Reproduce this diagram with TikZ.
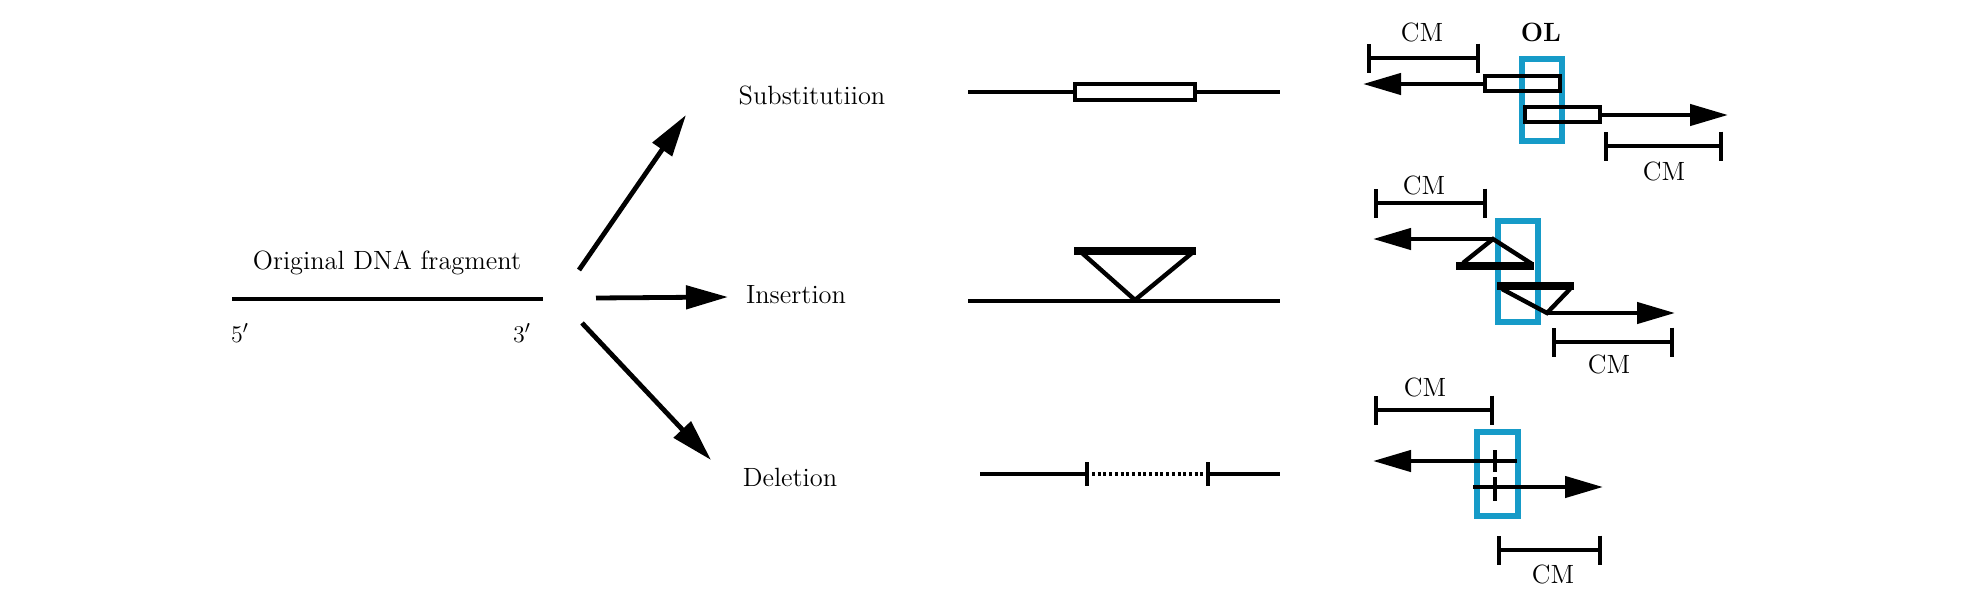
\documentclass[tikz,border=0pt]{standalone}
\usetikzlibrary{arrows.meta}
\definecolor{olblue}{RGB}{22,155,200}
\begin{document}
\begin{tikzpicture}[x=0.5pt,y=-0.5pt,
  lbl/.style={font=\fontsize{13.2}{15}\selectfont, inner sep=0pt, anchor=base},
  dna/.style={line width=2.2pt},
  bigarrow/.style={line width=2.4pt,-{Triangle[length=21pt,width=11.5pt]}},
  smallarrow/.style={line width=2.2pt,-{Triangle[length=19pt,width=10.5pt]}},
  bracket/.style={line width=2.2pt,{Bar[width=14.5pt]}-{Bar[width=14.5pt]}},
  olbox/.style={draw=olblue,line width=3.2pt},
  mutbox/.style={draw,line width=1.8pt},
  insbar/.style={line width=3.8pt},
]
\useasboundingbox (0,0) rectangle (1972,600);

% original fragment
\node[lbl] (orig) at (387,269) {Original DNA fragment};
\draw[dna] (232,299) -- (543,299);
\node[lbl] (five) at (240,342) {$5'$};
\node[lbl] (three) at (522,342) {$3'$};

% mutation labels
\node[lbl] (sub) at (812,104) {Substitutiion};
\node[lbl] (ins) at (796,303) {Insertion};
\node[lbl] (del) at (790,486) {Deletion};

% branching arrows
\coordinate (a1s) at (579,270); \coordinate (a1e) at (686,115);
\coordinate (a2s) at (596,298); \coordinate (a2e) at (728,297);
\coordinate (a3s) at (582,323); \coordinate (a3e) at (711,460);
\draw[bigarrow] (a1s) -- (a1e);
\draw[bigarrow] (a2s) -- (a2e);
\draw[bigarrow] (a3s) -- (a3e);

% substitution sketch
\draw[dna] (968,92) -- (1075,92);
\draw[dna] (1195,92) -- (1280,92);
\draw[mutbox] (1075,84) rectangle (1195,100);

% insertion sketch
\draw[dna] (968,301) -- (1280,301);
\draw[insbar] (1074,251) -- (1196,251);
\draw[dna] (1082,253) -- (1135,300) -- (1192,253);

% deletion sketch
\draw[dna] (980,474) -- (1087,474);
\draw[dna] (1208,474) -- (1280,474);
\draw[dna] (1087,462) -- (1087,486);
\draw[dna] (1208,462) -- (1208,486);
\draw[line width=1.8pt, dash pattern=on 1.5pt off 1.35pt] (1092,474) -- (1205,474);

% right: substitution
\node[lbl] (cm1) at (1422,41) {CM};
\node[lbl] (ol) at (1541,41) {\textbf{OL}};
\draw[olbox] (1522,59) rectangle (1562,141);
\draw[bracket] (1367,58) -- (1480,58);
\draw[smallarrow] (1484,84) -- (1363,84);
\draw[mutbox] (1485,76) rectangle (1560,91);
\draw[mutbox] (1525,107) rectangle (1600,122);
\draw[smallarrow] (1600,115) -- (1728,115);
\draw[bracket] (1604,146) -- (1723,146);
\node[lbl] (cm2) at (1664,180) {CM};

% right: insertion
\node[lbl] (cm3) at (1424,194) {CM};
\draw[olbox] (1498,221) rectangle (1538,322);
\draw[bracket] (1374,203) -- (1487,203);
\draw[smallarrow] (1493,239) -- (1373,239);
\draw[dna] (1463,263) -- (1493,239) -- (1532,264);
\draw[insbar] (1456,266) -- (1534,266);
\draw[insbar] (1497,286) -- (1574,286);
\draw[dna] (1502,289) -- (1547,313) -- (1570,289);
\draw[smallarrow] (1547,313) -- (1675,313);
\draw[bracket] (1552,342) -- (1674,342);
\node[lbl] (cm4) at (1609,373) {CM};

% right: deletion
\node[lbl] (cm5) at (1425,396) {CM};
\draw[olbox] (1477,432) rectangle (1518,516);
\draw[bracket] (1374,410) -- (1494,410);
\draw[smallarrow] (1517,461) -- (1373,461);
\draw[dna] (1495,450) -- (1495,472);
\draw[smallarrow] (1473,487) -- (1603,487);
\draw[dna] (1495,477) -- (1495,501);
\draw[bracket] (1497,550) -- (1602,550);
\node[lbl] (cm6) at (1553,583) {CM};
\end{tikzpicture}
\end{document}
